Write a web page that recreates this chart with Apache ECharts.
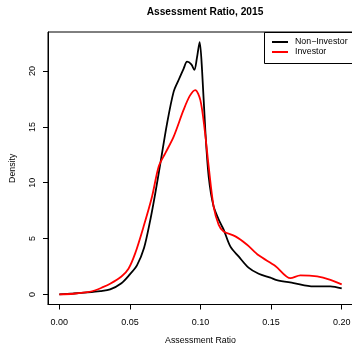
<!DOCTYPE html>
<html>
<head>
<meta charset="utf-8">
<script src="https://cdn.jsdelivr.net/npm/echarts@6/dist/echarts.min.js"></script>
<style>
  html, body { margin: 0; padding: 0; background: #fff; }
  #chart { width: 352px; height: 346px; }
</style>
</head>
<body>
<div id="chart"></div>
<script>
// Kernel density estimates of the assessment ratio, 2015
const nonInvestorX = [0.000, 0.010, 0.020, 0.029, 0.036, 0.044, 0.050, 0.055, 0.060, 0.0645, 0.068, 0.0716, 0.0763, 0.081, 0.0845, 0.088, 0.0905, 0.0935, 0.0956, 0.0975, 0.0994, 0.1011, 0.1034, 0.1058, 0.1093, 0.114, 0.1164, 0.1211, 0.127, 0.134, 0.1412, 0.1495, 0.154, 0.166, 0.180, 0.192, 0.200];
const nonInvestorY = [0.0, 0.08, 0.18, 0.3, 0.45, 1.0, 1.8, 2.6, 4.15, 6.7, 9.07, 11.75, 15.3, 18.16, 19.2, 20.2, 20.84, 20.6, 20.1, 21.2, 22.6, 20.1, 14.7, 10.55, 7.87, 6.4, 5.8, 4.3, 3.4, 2.4, 1.85, 1.5, 1.28, 1.02, 0.72, 0.72, 0.53];

const investorX = [0.000, 0.010, 0.020, 0.025, 0.030, 0.036, 0.044, 0.049, 0.0538, 0.0597, 0.0657, 0.0704, 0.0751, 0.081, 0.088, 0.0925, 0.0963, 0.0999, 0.1030, 0.1058, 0.1093, 0.1129, 0.1164, 0.1247, 0.133, 0.1412, 0.153, 0.1637, 0.1707, 0.1826, 0.192, 0.200];
const investorY = [0.0, 0.06, 0.2, 0.35, 0.6, 0.95, 1.6, 2.3, 3.7, 6.08, 8.77, 11.45, 12.65, 14.13, 16.52, 17.8, 18.3, 17.4, 14.7, 11.45, 7.87, 6.23, 5.63, 5.2, 4.45, 3.5, 2.55, 1.45, 1.7, 1.61, 1.31, 0.9];

const xTicks = [0, 0.05, 0.10, 0.15, 0.20];
const yTicks = [0, 5, 10, 15, 20];

const seriesNames = ['Non\u2212Investor', 'Investor'];
const seriesColors = ['#000000', '#ff0000'];

const zip = (xs, ys) => xs.map((x, i) => [x, ys[i]]);

const textFont = 'Liberation Sans, Arial, Helvetica, sans-serif';

const chart = echarts.init(document.getElementById('chart'), null, { renderer: 'canvas' });

chart.setOption({
  animation: false,
  backgroundColor: '#ffffff',
  title: {
    text: 'Assessment Ratio, 2015',
    left: 200,
    top: 2,
    textAlign: 'center',
    textStyle: { fontFamily: textFont, fontWeight: 'bold', fontSize: 10.2, color: '#000' }
  },
  legend: {
    data: seriesNames,
    orient: 'vertical',
    left: 264,
    top: 32,
    padding: [5, 0, 5, 8],
    itemGap: 0,
    itemWidth: 16,
    itemHeight: 2,
    icon: 'rect',
    textStyle: { fontFamily: textFont, fontSize: 8.8, color: '#000', lineHeight: 10, padding: [0, 0, 0, 2] }
  },
  grid: {
    left: 48,
    top: 32,
    width: 305,
    height: 272.5,
    outerBoundsMode: 'none',
    show: true,
    borderColor: '#000',
    borderWidth: 1,
    backgroundColor: 'transparent'
  },
  xAxis: {
    type: 'value',
    min: -0.008,
    max: 0.208,
    name: 'Assessment Ratio',
    nameLocation: 'middle',
    nameGap: 32,
    nameTextStyle: { fontFamily: textFont, fontSize: 8.8, color: '#000' },
    axisLine: { show: true, onZero: false, lineStyle: { color: '#000', width: 1 } },
    axisTick: { show: true, inside: false, length: 5, lineStyle: { color: '#000' }, customValues: xTicks },
    axisLabel: {
      customValues: xTicks,
      margin: 14,
      fontFamily: textFont,
      fontSize: 9,
      color: '#000',
      formatter: v => v.toFixed(2)
    },
    splitLine: { show: false }
  },
  yAxis: {
    type: 'value',
    min: -0.904,
    max: 23.5,
    name: 'Density',
    nameLocation: 'middle',
    nameGap: 31,
    nameRotate: 90,
    nameTextStyle: { fontFamily: textFont, fontSize: 8.8, color: '#000' },
    axisLine: { show: true, onZero: false, lineStyle: { color: '#000', width: 1 } },
    axisTick: { show: true, inside: false, length: 5, lineStyle: { color: '#000' }, customValues: yTicks },
    axisLabel: {
      customValues: yTicks,
      rotate: 90,
      margin: 11,
      fontFamily: textFont,
      fontSize: 9,
      color: '#000'
    },
    splitLine: { show: false }
  },
  graphic: [
    {
      // frame around the legend, running off the right edge with the plot box
      type: 'rect',
      shape: { x: 264.5, y: 32.5, width: 100, height: 31 },
      style: { fill: 'transparent', stroke: '#000', lineWidth: 1 },
      z: 10
    }
  ],
  series: [
    {
      name: seriesNames[0],
      type: 'line',
      data: zip(nonInvestorX, nonInvestorY),
      smooth: 0.3,
      showSymbol: false,
      color: seriesColors[0],
      lineStyle: { color: seriesColors[0], width: 1.8 },
      z: 3
    },
    {
      name: seriesNames[1],
      type: 'line',
      data: zip(investorX, investorY),
      smooth: 0.3,
      showSymbol: false,
      color: seriesColors[1],
      lineStyle: { color: seriesColors[1], width: 1.8 },
      z: 4
    }
  ]
});
</script>
</body>
</html>
